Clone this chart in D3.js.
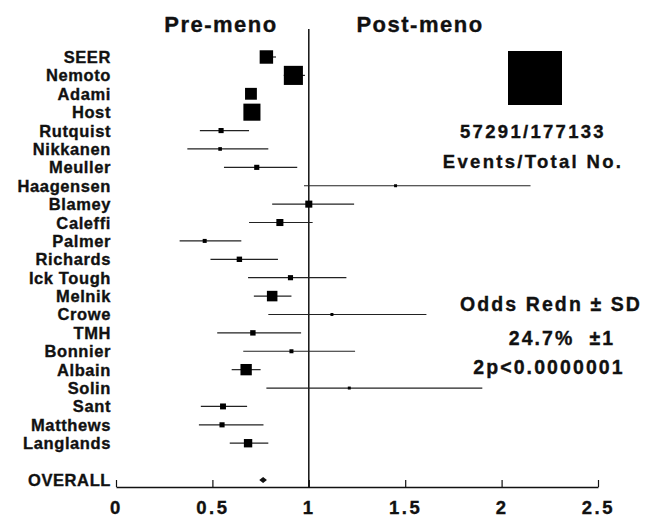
<!DOCTYPE html>
<html>
<head>
<meta charset="utf-8">
<script src="https://cdn.jsdelivr.net/npm/d3@7"></script>
<style>
  html, body { margin: 0; padding: 0; background: #fff; }
  svg { display: block; }
  text { font-family: "Liberation Sans", Arial, sans-serif; font-weight: bold; fill: #111;
         stroke: #111; stroke-width: 0.35px; }
</style>
</head>
<body>
<div id="grafico"></div>
<script>
// estudos, de cima para baixo
const estudos = ["SEER", "Nemoto", "Adami", "Host", "Rutquist", "Nikkanen", "Meuller",
  "Haagensen", "Blamey", "Caleffi", "Palmer", "Richards", "Ick Tough", "Melnik", "Crowe",
  "TMH", "Bonnier", "Albain", "Solin", "Sant", "Matthews", "Langlands"];

// odds ratio e intervalo
const oddsRatio = [0.78, 0.92, 0.70, 0.705, 0.545, 0.54, 0.73, 1.45, 1.0, 0.85, 0.46, 0.64,
  0.905, 0.81, 1.12, 0.71, 0.91, 0.675, 1.21, 0.555, 0.55, 0.685];
const limiteInferior = [0.75, 0.87, 0.68, 0.68, 0.435, 0.37, 0.56, 0.975, 0.81, 0.69, 0.33, 0.49,
  0.685, 0.715, 0.79, 0.525, 0.66, 0.60, 0.78, 0.44, 0.43, 0.59];
const limiteSuperior = [0.83, 0.98, 0.72, 0.73, 0.69, 0.79, 0.94, 2.15, 1.235, 1.02, 0.65, 0.84,
  1.195, 0.91, 1.61, 0.96, 1.24, 0.75, 1.90, 0.68, 0.765, 0.79];
// peso relativo (area do quadrado)
const pesos = [6.2, 12.5, 4.8, 10.0, 0.9, 0.45, 0.9, 0.3, 1.7, 1.7, 0.55, 1.0,
  0.9, 3.8, 0.3, 1.0, 0.55, 4.4, 0.3, 1.2, 0.9, 2.4];

const geral = { rotulo: "OVERALL", or: 0.763, inferior: 0.743, superior: 0.783 };
const pesoLegenda = 100;
const ticksX = [0, 0.5, 1, 1.5, 2, 2.5];

const textosLegenda = ["57291/177133", "Events/Total No."];
const textosResultado = ["Odds Redn \u00b1 SD", "24.7%  \u00b11", "2p<0.0000001"];

const largura = 646, altura = 517;

const svg = d3.select("#grafico").append("svg")
  .attr("width", largura).attr("height", altura);

svg.append("rect").attr("width", largura).attr("height", altura).attr("fill", "#fff");

const x = d3.scaleLinear().domain([0, 2.5]).range([116, 598]);
const linhas = estudos.concat(["", geral.rotulo]);
const y = d3.scalePoint().domain(linhas).range([57, 480]);
const lado = d3.scaleSqrt().domain([0, pesoLegenda]).range([0, 54]);

const eixoY = 487;

// linha vertical em 1
svg.append("line")
  .attr("x1", x(1)).attr("x2", x(1))
  .attr("y1", 29).attr("y2", eixoY)
  .attr("stroke", "#111").attr("stroke-width", 1.5);

// eixo x
const eixo = svg.append("g")
  .attr("transform", `translate(0,${eixoY})`)
  .call(d3.axisBottom(x).tickValues(ticksX).tickSizeInner(-7).tickSizeOuter(0)
    .tickPadding(14).tickFormat(d => String(d)));

eixo.select(".domain").attr("stroke", "#111").attr("stroke-width", 1.5);
eixo.selectAll(".tick line").attr("stroke", "#111").attr("stroke-width", 1.2);
eixo.selectAll(".tick text")
  .attr("font-family", "Liberation Sans, Arial, sans-serif")
  .attr("font-weight", "bold")
  .attr("font-size", 18.5)
  .attr("letter-spacing", 2.6)
  .attr("fill", "#111");

const dados = estudos.map((nome, i) => ({
  nome: nome,
  or: oddsRatio[i],
  inferior: limiteInferior[i],
  superior: limiteSuperior[i],
  peso: pesos[i]
}));

// intervalos
svg.append("g").selectAll("line")
  .data(dados)
  .join("line")
    .attr("x1", d => x(d.inferior))
    .attr("x2", d => x(d.superior))
    .attr("y1", d => y(d.nome))
    .attr("y2", d => y(d.nome))
    .attr("stroke", "#222")
    .attr("stroke-width", 1.2);

// quadrados
svg.append("g").selectAll("rect")
  .data(dados)
  .join("rect")
    .attr("x", d => x(d.or) - lado(d.peso) / 2)
    .attr("y", d => y(d.nome) - lado(d.peso) / 2)
    .attr("width", d => lado(d.peso))
    .attr("height", d => lado(d.peso))
    .attr("fill", "#000");

// diamante geral
const yg = y(geral.rotulo);
svg.append("path")
  .attr("d", `M${x(geral.inferior)},${yg} L${x(geral.or)},${yg - 3} L${x(geral.superior)},${yg} L${x(geral.or)},${yg + 3} Z`)
  .attr("fill", "#111");

// rotulos dos estudos
svg.append("g").selectAll("text")
  .data(linhas.filter(d => d !== ""))
  .join("text")
    .attr("x", 111)
    .attr("y", d => y(d) + 6)
    .attr("text-anchor", "end")
    .attr("font-size", 16.5)
    .attr("letter-spacing", 0.6)
    .text(d => d);

// titulos
svg.append("text").attr("x", 221).attr("y", 32).attr("text-anchor", "middle")
  .attr("font-size", 22).attr("letter-spacing", 1.5).text("Pre-meno");
svg.append("text").attr("x", 420).attr("y", 32).attr("text-anchor", "middle")
  .attr("font-size", 22).attr("letter-spacing", 1.5).text("Post-meno");

// legenda
const ladoLegenda = lado(pesoLegenda);
svg.append("rect")
  .attr("x", 535 - ladoLegenda / 2).attr("y", 78 - ladoLegenda / 2)
  .attr("width", ladoLegenda).attr("height", ladoLegenda)
  .attr("fill", "#000");

svg.append("g").selectAll("text")
  .data(textosLegenda)
  .join("text")
    .attr("x", 533)
    .attr("y", (d, i) => 138 + i * 30)
    .attr("text-anchor", "middle")
    .attr("font-size", 18.5)
    .attr("letter-spacing", 2.3)
    .text(d => d);

const posResultado = [[551, 311], [562, 345], [549, 374]];
svg.append("g").selectAll("text")
  .data(textosResultado)
  .join("text")
    .attr("x", (d, i) => posResultado[i][0])
    .attr("y", (d, i) => posResultado[i][1])
    .attr("text-anchor", "middle")
    .attr("font-size", 19.5)
    .attr("letter-spacing", 2.1)
    .style("white-space", "pre")
    .text(d => d);
</script>
</body>
</html>
